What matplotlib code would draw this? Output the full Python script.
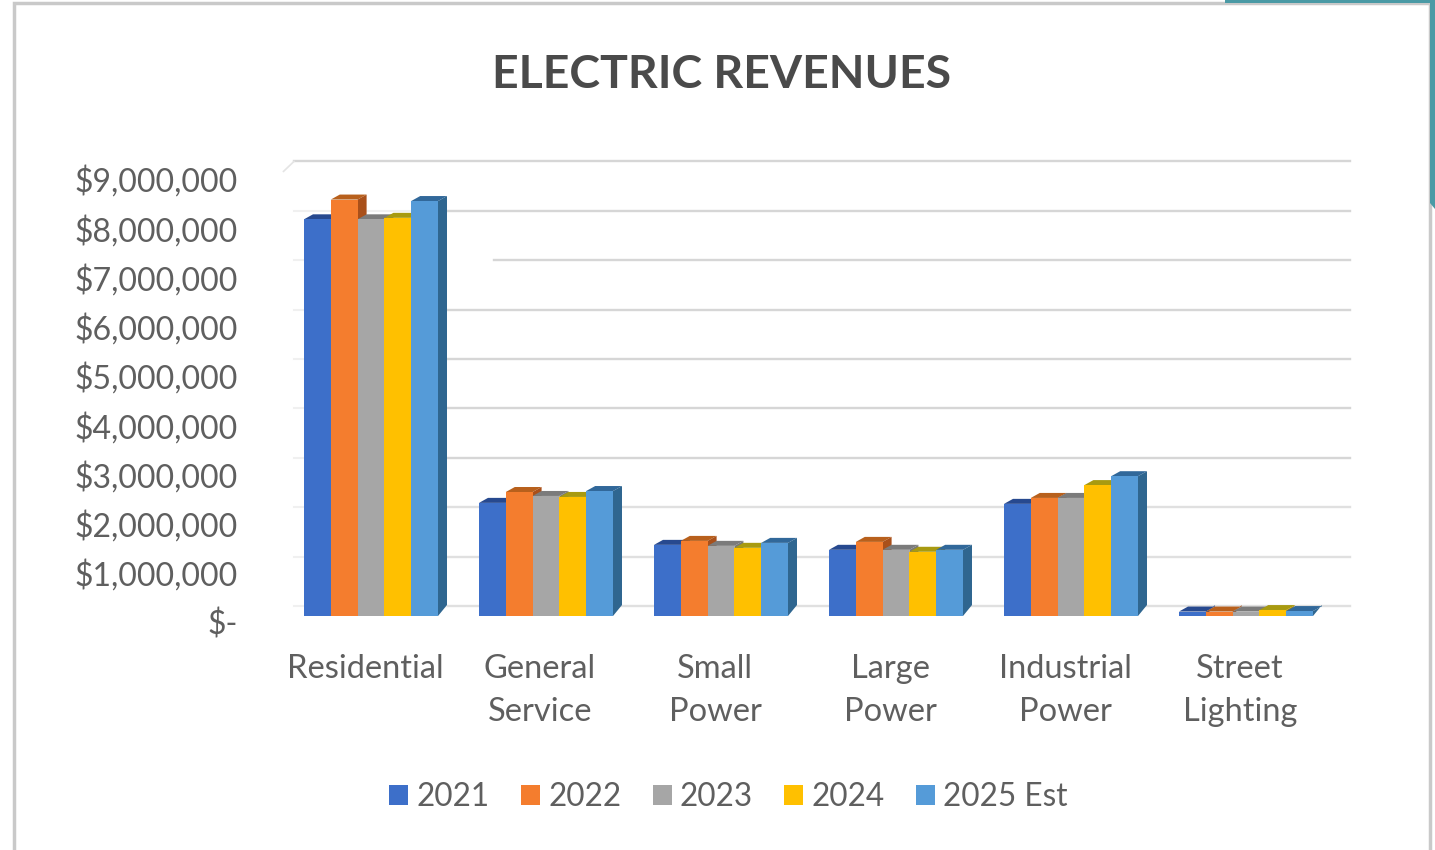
import matplotlib
matplotlib.use("Agg")
import matplotlib.pyplot as plt
from matplotlib.patches import Polygon, Rectangle
from matplotlib.transforms import ScaledTranslation
import numpy as np

plt.rcParams["font.family"] = ["Lato", "DejaVu Sans"]

# data
categories = ["Residential", "General\nService", "Small\nPower", "Large\nPower", "Industrial\nPower", "Street\nLighting"]
years = ["2021", "2022", "2023", "2024", "2025 Est"]
rev_2021 = [8030000, 2290000, 1440000, 1340000, 2270000, 90000]
rev_2022 = [8430000, 2510000, 1520000, 1500000, 2390000, 90000]
rev_2023 = [8030000, 2430000, 1420000, 1340000, 2390000, 90000]
rev_2024 = [8060000, 2410000, 1380000, 1300000, 2650000, 120000]
rev_2025 = [8400000, 2530000, 1480000, 1340000, 2830000, 100000]
y_ticks = [0, 1000000, 2000000, 3000000, 4000000, 5000000, 6000000, 7000000, 8000000, 9000000]
y_labels = ["$-", "$1,000,000", "$2,000,000", "$3,000,000", "$4,000,000",
            "$5,000,000", "$6,000,000", "$7,000,000", "$8,000,000", "$9,000,000"]

series = [rev_2021, rev_2022, rev_2023, rev_2024, rev_2025]
front = ["#3d6fc9", "#f47d2e", "#a6a6a6", "#ffc000", "#559bd8"]
top = ["#27498f", "#b8601c", "#7b7b7b", "#a89a10", "#31689a"]
side = ["#2a4f94", "#a9501a", "#777777", "#b08a00", "#2f6690"]

W, H = 1435, 850
fig = plt.figure(figsize=(W / 100, H / 100), dpi=100, facecolor="white")

# page behind the chart
bg = fig.add_axes([0, 0, 1, 1])
bg.set_xlim(0, W)
bg.set_ylim(H, 0)
bg.axis("off")
bg.add_patch(Rectangle((14, 3), 1416, 850, fc="white", ec="#c9c9c9", lw=2.5))
bg.add_patch(Rectangle((1225, 0), 210, 3, fc="#4a9aa5", ec="none"))
bg.add_patch(Polygon([(1430, 0), (1435, 0), (1435, 209), (1430, 203)], fc="#4a9aa5", ec="none"))

# plot area in pixels
left, right, base, y_top = 283.5, 1333.5, 616, 171.4
ax = fig.add_axes([left / W, 1 - base / H, (right - left) / W, (base - y_top) / H])
ax.patch.set_alpha(0)
ax.set_xlim(-0.5, 5.5)
ax.set_ylim(0, 9000000)
for s in ax.spines.values():
    s.set_visible(False)

px_x = 1 / 175
px_y = 9000000 / (base - y_top)
bar_w = 26.8 * px_x
dx = 9 * px_x
dy_top = 5 * px_y
dy_base = 11 * px_y

# back wall gridlines, only the top one reaches the left wall at full strength
for v in y_ticks:
    g = v + 10 * px_y
    if v == 9000000:
        ax.plot([-0.44, 5.594], [g, g], color="#d6d6d6", lw=1.7, clip_on=False, zorder=1)
        ax.plot([-0.50, -0.44], [g - 10 * px_y, g], color="#e4e4e4", lw=1.2, clip_on=False, zorder=1)
        continue
    col = "#e0e0e0" if v <= 2000000 else "#d6d6d6"
    start = 0.43 if v != 7000000 else 0.70
    ax.plot([start, 5.594], [g, g], color=col, lw=1.7, clip_on=False, zorder=1)
    ax.plot([-0.44, 0.43], [g, g], color="#f0f0f0", lw=1.5, clip_on=False, zorder=1)

# bars, left to right so each front hides the neighbour's side
x = np.arange(len(categories))
for i, vals in enumerate(series):
    xs = x - 2 * bar_w + i * bar_w
    z = 2 + i
    for xc, v in zip(xs, vals):
        l, r = xc - bar_w / 2, xc + bar_w / 2
        ax.add_patch(Polygon([(l, v), (l + dx, v + dy_top), (r + dx, v + dy_top), (r, v)],
                             fc=top[i], ec="none", zorder=z, clip_on=False))
        ax.add_patch(Polygon([(r, 0), (r + dx, dy_base), (r + dx, v + dy_top), (r, v)],
                             fc=side[i], ec="none", zorder=z, clip_on=False))
    ax.bar(xs, vals, width=bar_w, color=front[i], linewidth=0, zorder=z + 0.5)

# axis text
ax.set_xticks(x - 6 * px_x)
ax.set_xticklabels(categories, fontsize=23.5, color="#5f5f5f", linespacing=1.55)
ax.tick_params(axis="x", length=0, pad=27)
ax.set_yticks(y_ticks)
ax.set_yticklabels(y_labels, fontsize=23, color="#5f5f5f")
ax.tick_params(axis="y", length=0, pad=33)
for lab, v in zip(ax.get_yticklabels(), y_ticks):
    shift = (6 + 1.5 * v / 9000000) / 100
    lab.set_transform(lab.get_transform() + ScaledTranslation(0, -shift, fig.dpi_scale_trans))

fig.text(721.5 / W, 1 - 75 / H, "ELECTRIC REVENUES", fontsize=33.4, fontweight="bold",
         color="#4a4a4a", ha="center", va="center")

handles = [Rectangle((0, 0), 1, 1, fc=c, ec="none") for c in front]
fig.legend(handles, years, loc="center", bbox_to_anchor=(728.5 / W, 1 - 797 / H), ncol=5, frameon=False,
           fontsize=22.7, labelcolor="#5f5f5f", handlelength=0.6, handleheight=0.6,
           handletextpad=0.26, columnspacing=1.0)

fig.savefig("out.png", dpi=100)
